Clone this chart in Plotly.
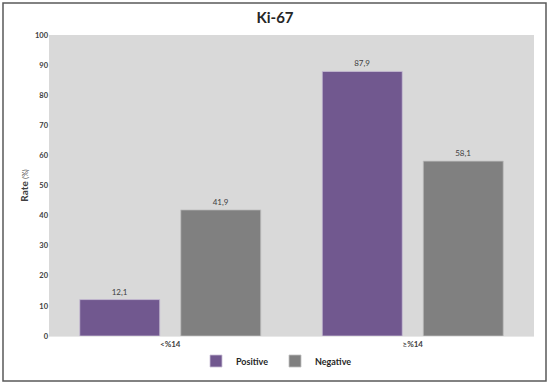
import plotly.graph_objects as go

categories = ["<%14", "≥%14"]
positive = [12.1, 87.9]
negative = [41.9, 58.1]
y_ticks = [0, 10, 20, 30, 40, 50, 60, 70, 80, 90, 100]

W, H = 550, 386
ml, mr, mt, mb = 49, 16, 35, 50
pw, ph = W - ml - mr, H - mt - mb

def px_x(x):
    return (x - ml) / pw

def px_y(y):
    return (H - y - mb) / ph

fig = go.Figure()
fig.add_trace(go.Bar(
    x=categories, y=positive, name="<b>Positive</b>",
    marker=dict(color="#71588f", line=dict(color="#c9bfd6", width=0.8)),
    texttemplate="%{y:.1f}", textposition="outside",
    textfont=dict(size=8, color="#404040"), cliponaxis=False,
))
fig.add_trace(go.Bar(
    x=categories, y=negative, name="<b>Negative</b>",
    marker=dict(color="#808080", line=dict(color="#bfbfbf", width=0.8)),
    texttemplate="%{y:.1f}", textposition="outside",
    textfont=dict(size=8, color="#404040"), cliponaxis=False,
))

fig.update_layout(
    width=W, height=H,
    margin=dict(l=ml, r=mr, t=mt, b=mb, autoexpand=False),
    paper_bgcolor="white",
    plot_bgcolor="#d9d9d9",
    separators=",.",
    barmode="group",
    bargap=0.167,
    bargroupgap=0.208,
    font=dict(family="Lato, Open Sans, sans-serif", color="#404040"),
    title=dict(text="<b>Ki-67</b>", x=0.5, xanchor="center", y=0.955, yanchor="middle",
               font=dict(size=15, color="#262626")),
    xaxis=dict(showgrid=False, ticks="", tickfont=dict(size=8, color="#404040"),
               tickvals=categories, ticktext=["<b>" + c + "</b>" for c in categories],
               showline=True, linecolor="#e8e8e8", linewidth=1, automargin=False),
    yaxis=dict(range=[0, 100], tickvals=y_ticks, ticktext=["<b>%d</b>" % v for v in y_ticks],
               showgrid=False, zeroline=False,
               tickfont=dict(size=7.5, color="#404040"), automargin=False,
               title=dict(text="<b>Rate</b> <span style='font-size:7px'>(%)</span>",
                          font=dict(size=10, color="#404040"), standoff=4)),
    legend=dict(orientation="h", x=px_x(196), xanchor="left", y=px_y(361), yanchor="middle",
                font=dict(size=9, color="#262626"), entrywidth=34,
                bgcolor="rgba(0,0,0,0)"),
    shapes=[dict(type="rect", xref="paper", yref="paper",
                 x0=px_x(3), x1=px_x(546), y0=px_y(381), y1=px_y(3),
                 line=dict(color="#595959", width=1.5), fillcolor="rgba(0,0,0,0)", layer="above")],
)

fig.write_html("out.html", config={"displayModeBar": False},
               post_script="document.body.style.margin='0';")
